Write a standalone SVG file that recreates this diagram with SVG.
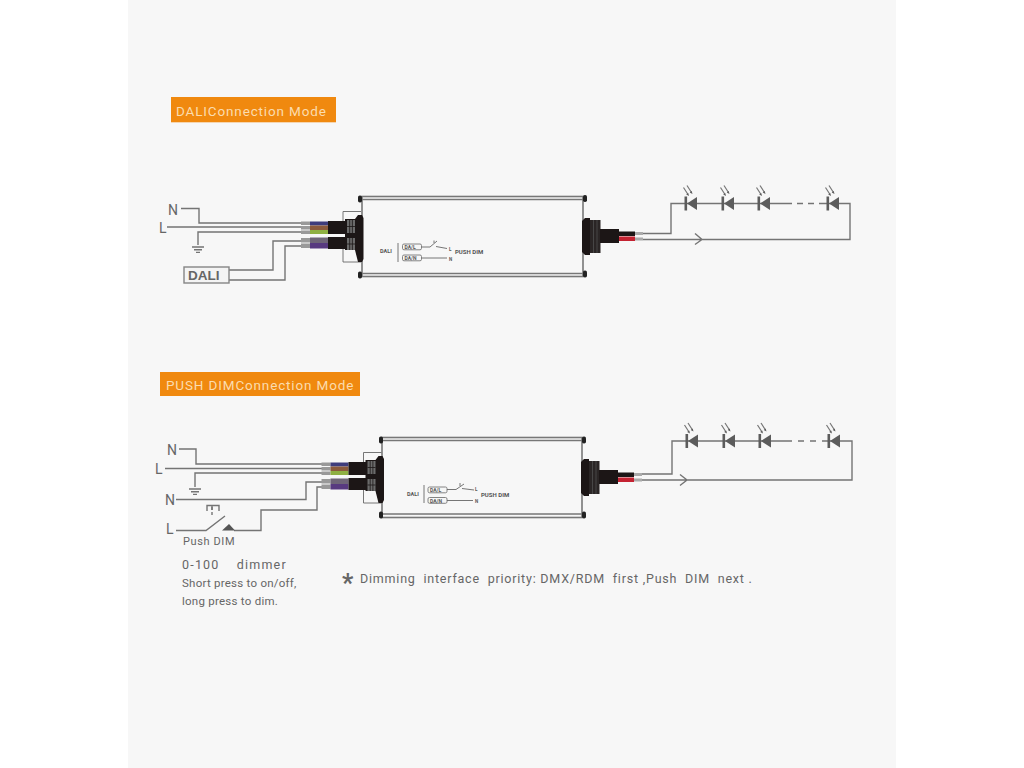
<svg xmlns="http://www.w3.org/2000/svg" xmlns:xlink="http://www.w3.org/1999/xlink" width="1024" height="768" viewBox="0 0 1024 768">
<style>
text{font-family:Roboto,"Liberation Sans",sans-serif;fill:#666}
.w{fill:none;stroke:#747474;stroke-width:1.4}
.thin{fill:none;stroke:#666;stroke-width:.9}
.ray{fill:none;stroke:#777;stroke-width:1.2}
.case{fill:none;stroke:#777;stroke-width:1.6}
.tag{fill:#f6f6f6;stroke:#777;stroke-width:.9}
.tiny{font-size:5.5px;font-weight:700;fill:#555}
.title{font-size:13.5px;letter-spacing:.85px;fill:#fbdcae}
.lab{font-size:14px}
.note{font-size:11.5px;letter-spacing:.25px}
.blk{fill:#1c1616}
.rib{fill:#6b6b6b}
.led{fill:#5c5c5c}
</style>
<defs>
<g id="conn-left">
<path class="thin" d="M343 222V211.500H361M343 249V262H361"/>
<path fill="#999" d="M301 221.500h9v3.500h-9zM301 226h9v3.500h-9zM301 230.500h9v3.500h-9zM301 238h9v4.500h-9zM301 243.500h9v4.500h-9z"/>
<rect x="310" y="221.500" width="18" height="4" fill="#3e3c7c"/>
<rect x="310" y="225.500" width="18" height="4.500" fill="#8b5a3c"/>
<rect x="310" y="230" width="18" height="4" fill="#8fb043"/>
<rect x="310" y="237.500" width="18" height="5.500" fill="#6f6578"/>
<rect x="310" y="243" width="18" height="5.500" fill="#583a80"/>
<path class="blk" d="M328 221H345V219H355L358 215H362L363.500 218V259L362 262H358L355 250H345V249H328V237H345V234H328Z"/>
<rect class="rib" x="347" y="220" width="8" height="13"/>
<rect class="rib" x="347" y="238" width="8" height="12"/>
<path stroke="#1c1616" stroke-width=".8" d="M349.700 220v13M352.400 220v13M349.700 238v12M352.400 238v12M347 226.500h8M347 244h8"/>
</g>
<g id="conn-right">
<path class="blk" d="M582 221L585 218H590V255H585L582 252Z"/>
<rect x="590" y="220" width="10.500" height="33" fill="#2a2525"/>
<path stroke="#555" stroke-width=".7" d="M593.500 220v33M597 220v33"/>
<rect class="blk" x="600" y="229" width="19" height="14"/>
<rect class="blk" x="619" y="231.500" width="16" height="4.500"/>
<rect x="619" y="236.500" width="16" height="4.500" fill="#c42231"/>
<path fill="#aaa" d="M635 232h8v3h-8zM635 237.500h8v3h-8z"/>
</g>
<g id="diode">
<rect class="led" x="-5.500" y="-7" width="2.600" height="14"/>
<path class="led" d="M-3 0L7 -6.500V6.500Z"/>
<path class="ray" d="M-6.500 -16L-2 -9M-3 -18L1.500 -11"/>
<path class="led" d="M-1 -7.500l-2.800 -1.600 2-1.400zM2.500 -9.500l-2.800 -1.600 2-1.400z"/>
</g>
<g id="ground"><path class="w" d="M-6 0H6M-4 2.700H4M-2 5.400H2" stroke-width="1.100"/></g>
<g id="screw"><rect x="-2" y="-3.500" width="4" height="7" rx="1.800" fill="#222"/></g>
</defs>
<rect width="1024" height="768" fill="#fff"/>
<rect x="128" width="768" height="768" fill="#f7f7f7"/>

<g id="title-dali"><rect x="171" y="97" width="165" height="25.300" fill="#f0890f"/><text class="title" x="176" y="116">DALIConnection Mode</text></g>
<g id="title-push"><rect x="160" y="372" width="200" height="24" fill="#f0890f"/><text class="title" x="166" y="390">PUSH DIMConnection Mode</text></g>

<g id="connectors">
<path class="w" d="M181 208.500H199V223H301M167 227H301M198 245V232H301M229 270H273V241H301M229 280H285V246H301"/>
<path class="w" d="M643 233.500H671V203.500H792M797 203.500H803M808 203.500H814M819 203.500H850V239.500H643M695 233.500L702 239.500L695 244.500"/>
<path class="w" d="M179 449H196V464H322M165 468.500H322M195 487V473H322M176 499.500H306V482H322M176 530.500H206L225 516M234 530.500H261V510H317V487H322"/>
<path class="w" d="M642 474H672V441H792M798 441H804M810 441H816M822 441H852V480H642M680 474.500L687 480L680 485.500"/>
<path class="w" stroke-dasharray="3 2" d="M212 515V507"/>
<path class="w" d="M207 511V505.500H219V511M212 505.500V510" stroke-width="1.700"/>
<path fill="#555" d="M222 530.500L229 524L235 530.500Z"/>
</g>

<g id="gnd-1"><use href="#ground" xlink:href="#ground" x="198" y="247"/></g>
<g id="gnd-2"><use href="#ground" xlink:href="#ground" x="195" y="489"/></g>

<g id="label-n1"><text class="lab" x="168" y="215">N</text></g>
<g id="label-l1"><text class="lab" x="159" y="233">L</text></g>
<g id="dali-box"><rect x="184" y="267" width="45" height="16" fill="#f4f4f4" stroke="#858585" stroke-width="1.400"/><text x="188" y="280" font-size="13.500" font-weight="700" style="font-family:'Liberation Sans',sans-serif">DALI</text></g>

<g id="driver-1">
<rect class="case" x="362" y="196.500" width="221" height="80"/>
<path class="case" d="M362 199.500H583M362 273.500H583" stroke-width="1"/>
<use href="#screw" xlink:href="#screw" x="360" y="199"/><use href="#screw" xlink:href="#screw" x="585" y="198.500"/>
<use href="#screw" xlink:href="#screw" x="360" y="275"/><use href="#screw" xlink:href="#screw" x="585" y="274"/>
<use href="#conn-left" xlink:href="#conn-left"/>
<use href="#conn-right" xlink:href="#conn-right"/>
<text class="tiny" x="380" y="253">DALI</text>
<path class="thin" stroke-width="1.200" d="M398 243V262"/>
<rect class="tag" x="402.500" y="244" width="19" height="5.800" rx="1.500"/><text class="tiny" x="404.500" y="249" style="font-size:5px">DA/L</text>
<rect class="tag" x="402.500" y="255" width="19" height="5.800" rx="1.500"/><text class="tiny" x="404.500" y="260" style="font-size:5px">DA/N</text>
<path class="thin" d="M421.500 247H430L437 241M434 243V240.500M436 246.500L447 248.500M421.500 258H447"/>
<text class="tiny" x="449" y="250.500" style="font-size:4.500px">L</text><text class="tiny" x="449" y="260.500" style="font-size:4.500px">N</text>
<text class="tiny" x="455" y="253.500" style="font-size:6px">PUSH DIM</text>
</g>

<g id="leds-1">
<use href="#diode" xlink:href="#diode" x="690" y="203.500"/><use href="#diode" xlink:href="#diode" x="727" y="203.500"/><use href="#diode" xlink:href="#diode" x="763" y="203.500"/><use href="#diode" xlink:href="#diode" x="832" y="203.500"/>
</g>

<g id="label-n2"><text class="lab" x="167" y="455">N</text></g>
<g id="label-l2"><text class="lab" x="155" y="474">L</text></g>
<g id="label-n3"><text class="lab" x="165" y="505">N</text></g>
<g id="label-l3"><text class="lab" x="166" y="534">L</text></g>
<g id="push-label"><text x="183" y="545" font-size="11" letter-spacing=".6">Push DIM</text></g>

<g id="driver-2">
<rect class="case" x="382" y="437.500" width="200" height="80"/>
<path class="case" d="M382 440.500H582M382 514H582" stroke-width="1"/>
<use href="#screw" xlink:href="#screw" x="381" y="440"/><use href="#screw" xlink:href="#screw" x="584" y="440"/>
<use href="#screw" xlink:href="#screw" x="381" y="515"/><use href="#screw" xlink:href="#screw" x="584" y="515"/>
<use href="#conn-left" xlink:href="#conn-left" transform="translate(20.500 241)"/>
<use href="#conn-right" xlink:href="#conn-right" transform="translate(-1 241)"/>
<text class="tiny" x="407" y="496">DALI</text>
<path class="thin" stroke-width="1.200" d="M424 485V503"/>
<rect class="tag" x="428" y="487" width="19" height="5.800" rx="1.500"/><text class="tiny" x="430" y="492" style="font-size:5px">DA/L</text>
<rect class="tag" x="428" y="497.500" width="19" height="5.800" rx="1.500"/><text class="tiny" x="430" y="502.500" style="font-size:5px">DA/N</text>
<path class="thin" d="M447 489.500H456L464 484M460 486V483M462 488.500L474 490M447 500.500H473"/>
<text class="tiny" x="475" y="491" style="font-size:4.500px">L</text><text class="tiny" x="475" y="502.500" style="font-size:4.500px">N</text>
<text class="tiny" x="481" y="496.500" style="font-size:6px">PUSH DIM</text>
</g>

<g id="leds-2">
<use href="#diode" xlink:href="#diode" x="691" y="441"/><use href="#diode" xlink:href="#diode" x="728" y="441"/><use href="#diode" xlink:href="#diode" x="764" y="441"/><use href="#diode" xlink:href="#diode" x="833" y="441"/>
</g>

<g id="notes">
<text x="182" y="569" font-size="12.500" letter-spacing="1.200" xml:space="preserve">0-100    dimmer</text>
<text class="note" x="182" y="587">Short press to on/off,</text>
<text class="note" x="182" y="605">long press to dim.</text>
<text x="342" y="592" font-size="25" font-weight="700">*</text>
<text x="360" y="583" font-size="12.500" letter-spacing=".79" xml:space="preserve">Dimming  interface  priority: DMX/RDM  first ,Push  DIM  next .</text>
</g>
</svg>
